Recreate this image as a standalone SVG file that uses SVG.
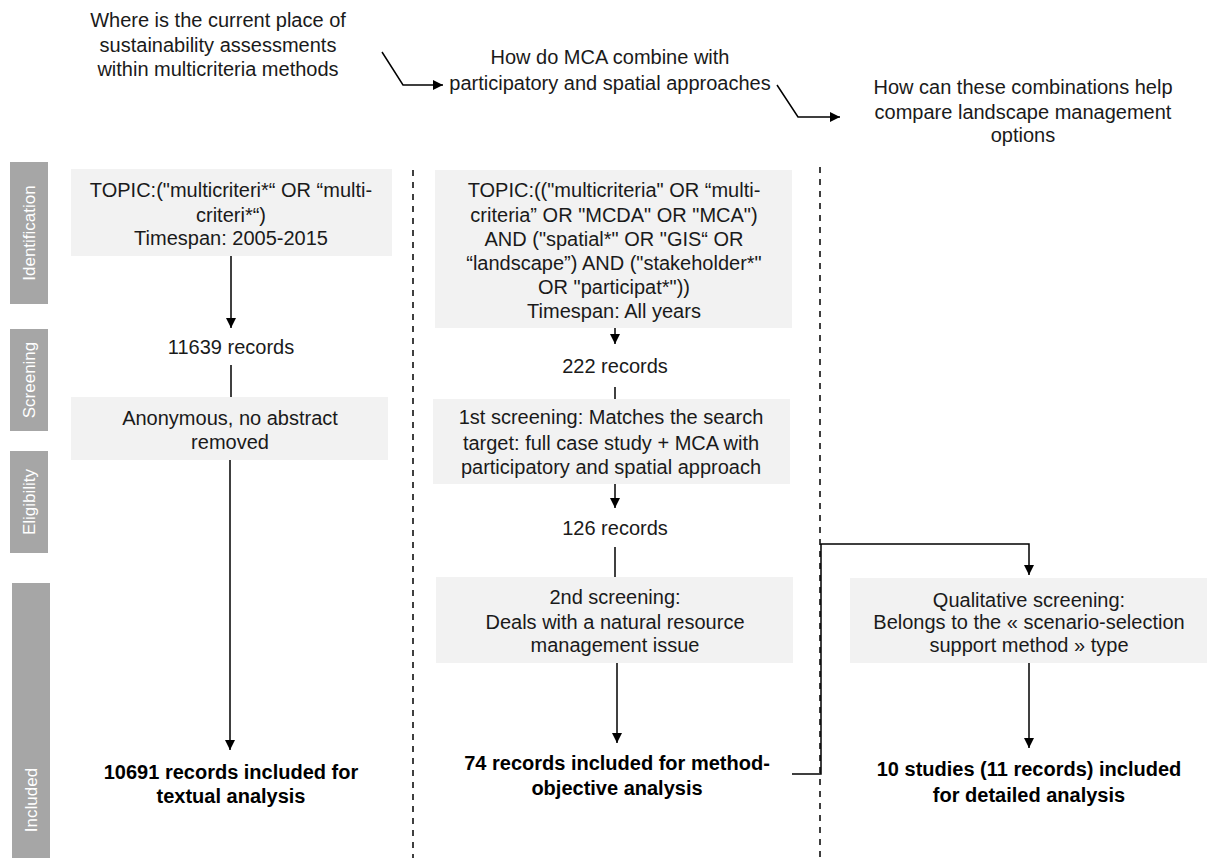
<svg xmlns="http://www.w3.org/2000/svg" width="1207" height="858" viewBox="0 0 1207 858">
<defs>
<marker id="ah" viewBox="0 0 10 10" refX="10" refY="5" markerWidth="10" markerHeight="10" markerUnits="userSpaceOnUse" orient="auto">
<path d="M0,0 L10,5 L0,10 z" fill="#000"/>
</marker>
</defs>
<style>
text{font-family:"Liberation Sans",Arial,sans-serif;font-size:20px;fill:#1a1a1a;text-anchor:middle}
.b{font-weight:bold;fill:#000}
.side rect{fill:#a6a6a6}
.side text{fill:#fff;font-size:17px}
.box{fill:#f2f2f2}
.ln{stroke:#000;stroke-width:1.5;fill:none}
.dash{stroke:#000;stroke-width:1.5;stroke-dasharray:6 6;fill:none}
</style>
<rect width="1207" height="858" fill="#fff"/>

<g id="side-labels" class="side">
<rect x="10" y="162" width="38" height="142"/>
<text transform="translate(35,233) rotate(-90)">Identification</text>
<rect x="10" y="329" width="38" height="102"/>
<text transform="translate(35,380) rotate(-90)">Screening</text>
<rect x="10" y="451" width="38" height="102"/>
<text transform="translate(35,502) rotate(-90)">Eligibility</text>
<rect x="12" y="583" width="38" height="275"/>
<text transform="translate(37,800) rotate(-90)">Included</text>
</g>

<g id="q1">
<text x="218" y="27">Where is the current place of</text>
<text x="218" y="52">sustainability assessments</text>
<text x="218" y="76">within multicriteria methods</text>
</g>
<g id="q2">
<text x="610" y="64">How do MCA combine with</text>
<text x="610" y="90">participatory and spatial approaches</text>
</g>
<g id="q3">
<text x="1023" y="94">How can these combinations help</text>
<text x="1023" y="119">compare landscape management</text>
<text x="1023" y="142">options</text>
</g>

<g id="dividers">
<line class="dash" x1="413" y1="170" x2="413" y2="858"/>
<line class="dash" x1="820" y1="167" x2="820" y2="858"/>
</g>

<g id="n1">
<rect class="box" x="71" y="169" width="321" height="87"/>
<text x="231" y="197">TOPIC:("multicriteri*“ OR “multi-</text>
<text x="231" y="222">criteri*“)</text>
<text x="231" y="245">Timespan: 2005-2015</text>
</g>
<g id="n2"><text x="231" y="354">11639 records</text></g>
<g id="n3">
<rect class="box" x="71" y="397" width="317" height="63"/>
<text x="230" y="425">Anonymous, no abstract</text>
<text x="230" y="449">removed</text>
</g>
<g id="n4">
<text class="b" x="231" y="779">10691 records included for</text>
<text class="b" x="231" y="803">textual analysis</text>
</g>

<g id="n5">
<rect class="box" x="435" y="170" width="357" height="158"/>
<text x="614" y="197">TOPIC:(("multicriteria" OR “multi-</text>
<text x="614" y="222">criteria” OR "MCDA" OR "MCA")</text>
<text x="614" y="246">AND ("spatial*" OR "GIS“ OR</text>
<text x="614" y="270">“landscape”) AND ("stakeholder*"</text>
<text x="614" y="294">OR "participat*"))</text>
<text x="614" y="318">Timespan: All years</text>
</g>
<g id="n6"><text x="615" y="373">222 records</text></g>
<g id="n7">
<rect class="box" x="433" y="399" width="357" height="85"/>
<text x="611" y="424">1st screening: Matches the search</text>
<text x="611" y="450">target: full case study + MCA with</text>
<text x="611" y="474">participatory and spatial approach</text>
</g>
<g id="n8"><text x="615" y="535">126 records</text></g>
<g id="n9">
<rect class="box" x="436" y="577" width="357" height="86"/>
<text x="615" y="604">2nd screening:</text>
<text x="615" y="629">Deals with a natural resource</text>
<text x="615" y="652">management issue</text>
</g>
<g id="n10">
<text class="b" x="617" y="770">74 records included for method-</text>
<text class="b" x="617" y="795">objective analysis</text>
</g>
<g id="n11">
<rect class="box" x="850" y="578" width="357" height="85"/>
<text x="1029" y="607">Qualitative screening:</text>
<text x="1029" y="629">Belongs to the « scenario-selection</text>
<text x="1029" y="652">support method » type</text>
</g>
<g id="n12">
<text class="b" x="1029" y="776">10 studies (11 records) included</text>
<text class="b" x="1029" y="802">for detailed analysis</text>
</g>

<g id="connectors">
<path class="ln" d="M382,52 L403,85 L443,85" marker-end="url(#ah)"/>
<path class="ln" d="M777,85 L798,117 L840,117" marker-end="url(#ah)"/>
<line class="ln" x1="231" y1="256" x2="231" y2="328" marker-end="url(#ah)"/>
<line class="ln" x1="231" y1="365" x2="231" y2="397"/>
<line class="ln" x1="230" y1="460" x2="230" y2="750" marker-end="url(#ah)"/>
<line class="ln" x1="615" y1="328" x2="615" y2="344" marker-end="url(#ah)"/>
<line class="ln" x1="615" y1="387" x2="615" y2="399"/>
<line class="ln" x1="615" y1="484" x2="615" y2="508" marker-end="url(#ah)"/>
<line class="ln" x1="615" y1="547" x2="615" y2="577"/>
<line class="ln" x1="617" y1="663" x2="617" y2="743" marker-end="url(#ah)"/>
<path class="ln" d="M792,774 L821,774 L821,544 L1029,544 L1029,575" marker-end="url(#ah)"/>
<line class="ln" x1="1029" y1="663" x2="1029" y2="748" marker-end="url(#ah)"/>
</g>
</svg>
